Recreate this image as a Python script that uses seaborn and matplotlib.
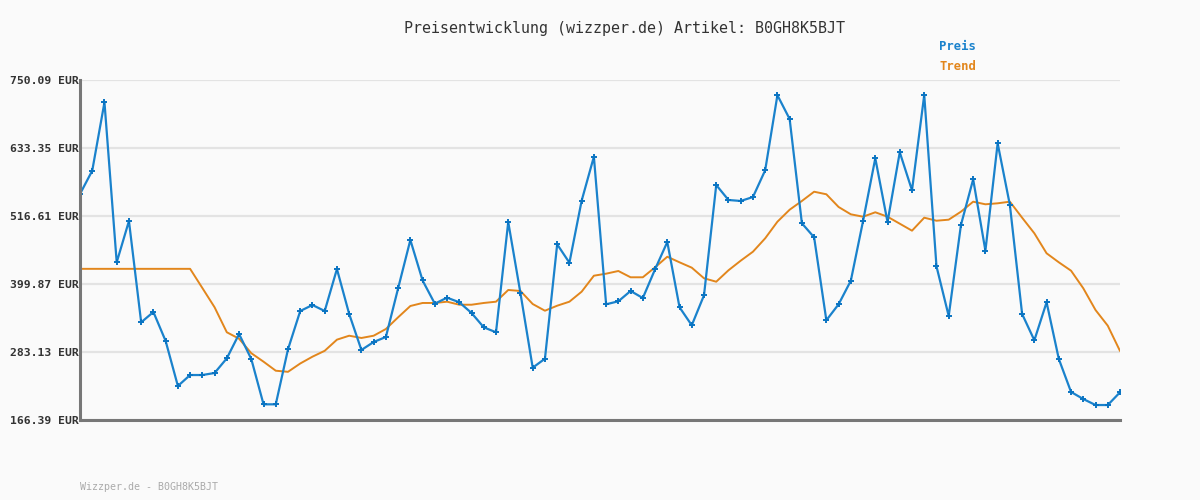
import numpy as np
import pandas as pd
import matplotlib
matplotlib.use("Agg")
import matplotlib.pyplot as plt
import seaborn as sns

# ---- data ----
title = "Preisentwicklung (wizzper.de) Artikel: B0GH8K5BJT"
footer = "Wizzper.de - B0GH8K5BJT"
series_names = ["Preis", "Trend"]
y_ticks = [166.39, 283.13, 399.87, 516.61, 633.35, 750.09]
y_tick_labels = ["166.39 EUR", "283.13 EUR", "399.87 EUR", "516.61 EUR", "633.35 EUR", "750.09 EUR"]

preis = [554.4, 594.4, 711.8, 437.1, 508.0, 334.1, 351.8, 302.0, 224.8, 243.6,
         243.6, 247.1, 272.3, 314.0, 271.1, 193.3, 193.3, 287.8, 353.5, 363.8,
         353.5, 425.6, 348.4, 286.6, 300.3, 308.9, 392.5, 475.4, 405.9, 366.1,
         376.4, 368.5, 350.1, 325.5, 317.0, 506.3, 383.9, 256.2, 271.6, 468.0,
         436.4, 542.9, 618.4, 365.0, 370.2, 387.9, 375.8, 425.1, 472.0, 359.9,
         329.0, 380.5, 569.8, 544.1, 542.4, 549.2, 595.1, 724.0, 683.1, 504.1,
         480.0, 337.6, 365.0, 405.5, 508.0, 615.7, 506.3, 626.0, 560.7, 724.3,
         430.3, 344.9, 501.2, 579.6, 457.0, 641.4, 535.5, 348.4, 303.2, 368.5,
         271.1, 214.5, 202.4, 192.1, 192.1, 213.9]

trend = [425.9, 425.9, 425.9, 425.9, 425.9, 425.9, 425.9, 425.9, 425.9, 425.9,
         393.0, 359.9, 317.0, 306.0, 281.1, 266.5, 251.0, 249.1, 263.4, 275.1,
         285.2, 304.3, 311.1, 307.2, 311.1, 322.6, 342.7, 362.1, 367.3, 367.3,
         369.5, 364.3, 364.3, 367.3, 369.5, 389.6, 387.9, 365.5, 354.0, 362.6,
         369.5, 386.7, 414.1, 417.6, 422.2, 411.4, 411.4, 428.5, 446.7, 437.1,
         427.9, 409.7, 403.8, 423.4, 439.9, 455.3, 478.3, 506.8, 527.4, 542.4,
         558.3, 553.9, 532.1, 519.5, 515.4, 523.0, 515.4, 503.4, 491.4, 513.7,
         508.5, 510.3, 524.0, 541.2, 536.7, 538.4, 541.2, 513.7, 486.9, 452.6,
         437.1, 422.7, 392.5, 355.2, 328.3, 284.9]

# ---- styling ----
BG = "#fafafa"
BLUE = "#1a82cc"
ORANGE = "#e2861c"

sns.set_theme(style="white")
plt.rcParams["font.family"] = ["DejaVu Sans Mono", "DejaVu Sans"]

idx = np.arange(len(preis))
df = pd.DataFrame({"idx": idx, "Preis": preis, "Trend": trend})

fig = plt.figure(figsize=(12, 5), dpi=100, facecolor=BG)
ax = fig.add_axes([80 / 1200, 80 / 500, 1040 / 1200, 340 / 500])
ax.set_facecolor(BG)

sns.lineplot(data=df, x="idx", y="Trend", ax=ax, color=ORANGE, linewidth=1.4, zorder=3)
sns.lineplot(data=df, x="idx", y="Preis", ax=ax, color=BLUE, linewidth=1.6,
             marker="+", markersize=3.8, markeredgewidth=1.4, markeredgecolor="#0a74c2", zorder=4)

ax.set_xlim(0, len(preis) - 1)
ax.set_ylim(y_ticks[0], y_ticks[-1])
ax.set_xticks([])
ax.set_yticks(y_ticks)
ax.set_yticklabels(y_tick_labels, fontsize=8.2, fontweight="bold", color="#333333")
ax.tick_params(axis="y", length=0, pad=1)
ax.set_xlabel("")
ax.set_ylabel("")

ax.grid(axis="y", color="#e3e3e3", linewidth=1.6, zorder=0)
ax.grid(axis="x", visible=False)
for s in ["top", "right"]:
    ax.spines[s].set_visible(False)
for s in ["left", "bottom"]:
    ax.spines[s].set_color("#777777")
    ax.spines[s].set_linewidth(2.2)
    ax.spines[s].set_zorder(5)

fig.text(624 / 1200, 1 - 28 / 500, title, ha="center", va="center",
         fontsize=10.8, color="#333333")
fig.text(939 / 1200, 1 - 47 / 500, series_names[0], ha="left", va="center",
         fontsize=8.8, fontweight="bold", color=BLUE)
fig.text(939 / 1200, 1 - 67 / 500, series_names[1], ha="left", va="center",
         fontsize=8.8, fontweight="bold", color=ORANGE)
fig.text(80 / 1200, 1 - 487 / 500, footer, ha="left", va="center",
         fontsize=7.2, color="#aaaaaa")

fig.savefig("out.png", dpi=100, facecolor=BG)
